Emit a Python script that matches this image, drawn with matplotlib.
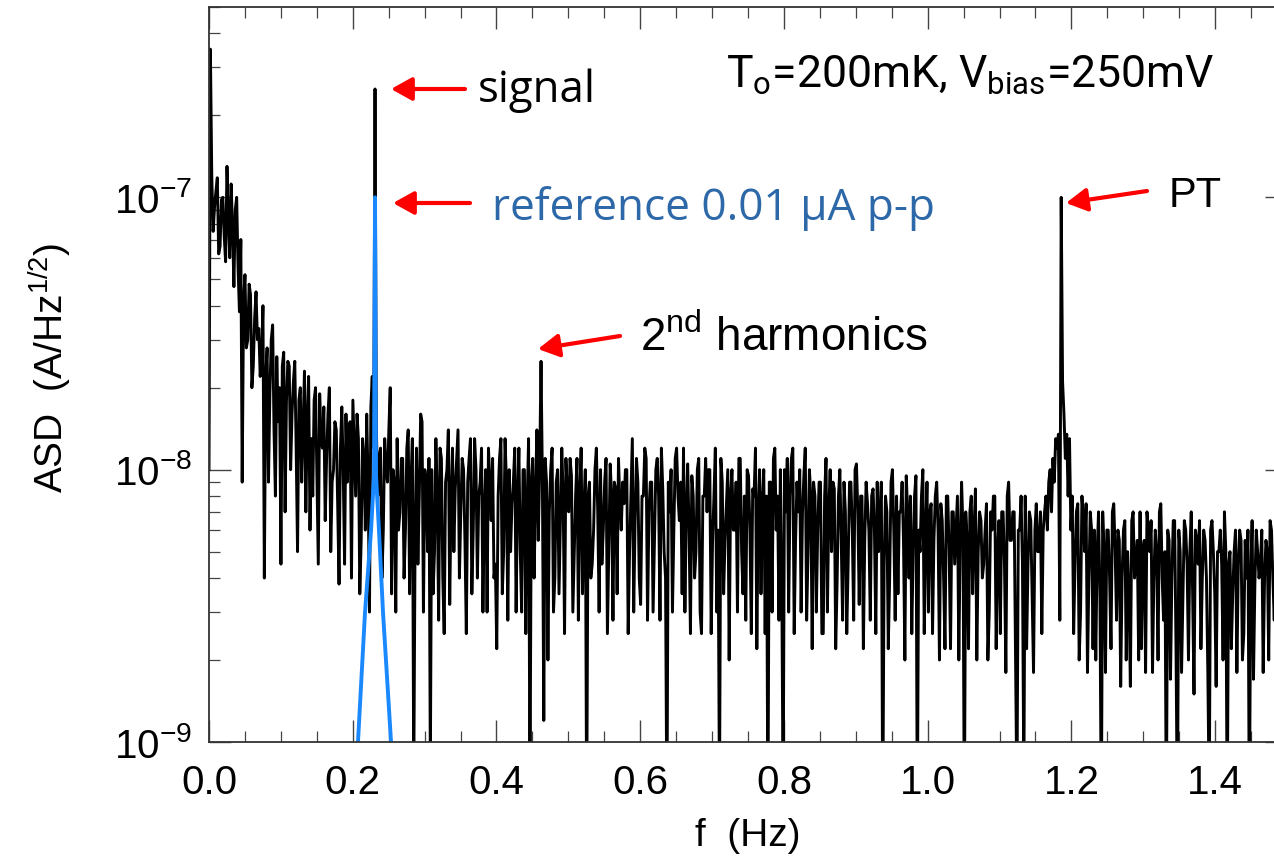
import numpy as np
import matplotlib
matplotlib.use("Agg")
import matplotlib.pyplot as plt
from matplotlib.ticker import MultipleLocator, LogLocator, NullFormatter

# current noise spectrum, FFT bins of width df, values in nA/Hz^1/2
df = 0.001925
asd_nA = [
    10, 350, 120, 75, 92, 105, 118, 62, 66, 98, 100, 72, 58, 130, 84, 60, 112, 78, 47, 90,
    100, 55, 38, 70, 9, 42, 52, 28, 30, 48, 44, 20, 24, 36, 45, 30, 33, 22, 26, 40,
    4, 22, 28, 9, 19, 30, 34, 14, 8, 26, 15, 20, 4.5, 24, 27, 7, 18, 25, 24, 10,
    16, 21, 25, 12, 5, 18, 20, 9, 14, 23, 7, 15, 22, 6, 13, 8, 18, 20, 9.5, 4.5,
    19, 13, 12, 17, 6.5, 11, 16, 20, 5, 9, 10, 15, 14, 7.5, 3.8, 12, 17, 10, 4.5, 16,
    9, 14, 15, 4, 18, 12, 8, 16, 13, 3.5, 5.5, 13, 11, 6, 16, 9, 3, 17, 22, 12,
    250, 14, 8, 11, 12, 4, 6, 13, 10, 9, 14, 20, 3.5, 10, 9, 3, 13, 6, 7, 11,
    11, 4, 6, 12, 14, 3.5, 9, 13, 0.7, 6, 12, 4.5, 8, 16, 15, 3, 10, 9, 5, 11,
    0.8, 10, 3.5, 5, 13, 8, 2.8, 12, 11, 4, 2.5, 9, 10, 14, 3.2, 8, 12, 5, 8.5, 11,
    14, 4, 7, 11, 10, 5.5, 2.5, 9, 11, 13, 3.5, 6, 13, 10, 4, 8, 9, 12, 3, 7,
    10, 3, 12, 9, 6.5, 11, 4, 4.5, 2.2, 8, 11, 13, 3.5, 5, 13, 9, 2.8, 10, 5, 7.5,
    9, 12, 3, 8, 12, 5, 3, 10, 10, 2.5, 7.5, 13, 0.6, 9, 11, 4, 8, 14, 5.5, 10,
    25, 9, 1.2, 11, 9, 2, 7, 10, 12, 3, 4, 9, 10, 3.5, 6.5, 12, 8, 2.5, 11, 8,
    7, 11, 9.5, 3, 5, 8, 11, 2.8, 8, 12, 3.5, 7, 10, 0.5, 8, 9, 4, 4.5, 6, 10,
    12, 7, 3, 10, 4.5, 6, 9, 11, 2.5, 5, 10.5, 8, 2.8, 9, 8.5, 3.5, 11, 7.5, 6, 9,
    7.5, 10, 10, 2.5, 5, 8, 13, 3, 6.5, 11, 9, 4, 3.2, 8, 8, 12, 11, 2.8, 7, 9,
    9, 3, 5.5, 10, 11, 8, 2.8, 12, 8.5, 5, 4, 0.5, 9, 7, 10, 3, 6, 11, 12, 8,
    6.5, 9, 3.5, 12, 3, 7, 10.5, 6, 2.5, 9.5, 8, 4, 5, 10, 11, 3, 2.5, 8, 8, 11,
    7, 10, 10, 2.5, 5.5, 8, 12, 3, 6, 0.6, 11, 9, 3.5, 5.5, 7.5, 10, 2, 8, 10, 6,
    6, 9, 3, 11, 11, 5, 3.5, 8, 2.8, 10, 9.5, 6, 2.5, 8.5, 8, 12, 2.2, 7, 10, 3.5,
    7.5, 10, 2.5, 8, 0.5, 9, 9, 3, 11, 12, 6, 8, 2.8, 10, 4, 0.6, 10, 7, 11, 3,
    8, 11, 12, 2.5, 5.5, 9, 7, 10, 3, 7, 9.5, 12, 2.8, 5, 10, 8, 2.2, 9, 8, 3,
    6, 9, 9, 2.5, 2.5, 8, 11, 3, 7, 10, 5, 9, 8.5, 2.2, 3.8, 8, 10, 5.5, 2.8, 9,
    7, 2.5, 4.5, 9, 9, 6, 2.8, 10, 10.5, 7, 3.2, 8, 8, 2.2, 5.5, 9, 7.5, 6, 2.8, 8,
    8.5, 6, 2.5, 9, 5, 7, 9, 0.5, 4.5, 8, 7, 2.2, 4, 9, 10, 6, 2.8, 8, 3.5, 7,
    7, 9, 5.5, 2, 9.5, 7, 4, 8, 2.5, 5, 8, 9.5, 0.5, 6, 5, 8, 10, 2.5, 6, 9,
    3, 7, 7.5, 2.5, 5.5, 8, 9, 6, 2, 7.5, 6.5, 4, 2.2, 8, 8, 5, 2.2, 7, 7, 4.5,
    6, 8, 2, 5.5, 9, 6, 0.5, 7, 5.5, 2.2, 7, 8, 3.5, 6, 8.5, 2, 5, 7, 6.5, 4,
    4.5, 6, 7.5, 2, 3, 7, 6, 8, 8, 2.2, 5, 6.5, 2.5, 7, 7, 4.5, 1.8, 8, 9, 5.5,
    5.5, 7, 7, 2, 0.6, 6, 6, 8, 4.5, 0.7, 8, 2.2, 4.5, 7, 6.5, 3.5, 1.8, 6, 7.5, 5,
    5, 7, 2.5, 6, 7, 8, 6, 9, 10, 7, 11, 9, 13, 12, 13.5, 2.8, 100, 21, 16, 11,
    13.5, 8, 13, 6, 8, 2.5, 4.5, 7, 7.5, 2, 3, 8, 6.5, 5, 7.5, 1.8, 4, 7, 6, 2.2,
    6, 2, 5, 7, 3.5, 0.5, 7, 5, 1.8, 6, 6, 4, 2.2, 7, 7.5, 5, 2.8, 6, 5.5, 1.6,
    4, 6, 6.5, 2, 5, 3.5, 1.6, 6.5, 7, 4, 4.5, 5.5, 2, 7, 2.2, 5, 5.5, 1.8, 7, 6,
    5, 6.5, 1.8, 4, 6, 5, 2, 7, 7.5, 4, 2.8, 5, 0.5, 6, 5.5, 1.7, 4, 6.5, 6.5, 2.2,
    0.5, 6, 5, 1.8, 3.5, 6.5, 6, 4.5, 2, 5, 7, 3.5, 1.5, 6, 5.5, 4.5, 6.5, 2.2, 4, 6,
    5.5, 4, 1.8, 0.6, 6, 6.5, 5, 3.5, 1.6, 5, 5, 6, 4.5, 2, 7, 5, 0.5, 4.5, 5, 2.2,
    3.5, 5, 6, 1.8, 4.5, 6, 5.5, 2, 2.5, 5.5, 4, 6, 0.5, 4, 6.5, 1.7, 3.8, 6, 5, 4,
    4.5, 6, 1.8, 4, 5.5, 5, 2, 6.5, 6, 4, 2.8, 5, 1.6, 6, 5, 3.5, 3.5, 5.5, 2.2, 5,
]

# reference tone spectrum (0.01 uA p-p)
ref_f = [0.195, 0.2073, 0.2171, 0.2255, 0.2296, 0.2310, 0.2324, 0.2365, 0.2421, 0.2533, 0.265]
ref_asd = [0.5e-9, 1.0e-9, 3.0e-9, 6.0e-9, 9.5e-9, 1.0e-7, 9.5e-9, 6.0e-9, 3.0e-9, 1.0e-9, 0.5e-9]

xticks = [0.0, 0.2, 0.4, 0.6, 0.8, 1.0, 1.2, 1.4]
yticks = [1e-9, 1e-8, 1e-7]
ylabels = [r'$10^{-9}$', r'$10^{-8}$', r'$10^{-7}$']

freq = np.arange(len(asd_nA)) * df
asd = np.array(asd_nA) * 1e-9

plt.rcParams['font.family'] = 'Liberation Sans'
plt.rcParams['mathtext.fontset'] = 'custom'
plt.rcParams['mathtext.rm'] = 'Liberation Sans'
plt.rcParams['mathtext.default'] = 'regular'
W, H = 1274, 860
fx = lambda x: x / W
fy = lambda y: 1 - y / H

fig = plt.figure(figsize=(W / 100, H / 100), dpi=100)
ax = fig.add_axes([fx(209), fy(742), 1078 / W, 735 / H])
ax.plot(freq, asd, color='black', lw=2.1)
ax.plot(ref_f, ref_asd, color='#1a88ff', lw=2.8)

ax.set_yscale('log')
ax.set_xlim(0, 1.5)
ax.set_ylim(1e-9, 5e-7)
ax.set_xticks(xticks)
ax.set_xticklabels([f"{t:.1f}" for t in xticks])
ax.set_yticks(yticks)
ax.set_yticklabels(ylabels)
ax.xaxis.set_minor_locator(MultipleLocator(0.05))
ax.yaxis.set_minor_locator(LogLocator(base=10, subs=np.arange(2, 10), numticks=20))
ax.yaxis.set_minor_formatter(NullFormatter())
ax.tick_params(which='both', direction='in', top=True, right=True, color='#444444', labelsize=29)
ax.tick_params(which='major', length=16, width=1.0, pad=12)
ax.tick_params(which='minor', length=8, width=0.9)
ax.tick_params(axis='x', pad=16)
for s in ax.spines.values():
    s.set_linewidth(1.3)
    s.set_color('#333333')

fig.text(fx(748), fy(836), 'f  (Hz)', ha='center', va='center', fontsize=28)
fig.text(fx(50), fy(368), r'ASD  (A/Hz$^{1/2}$)', ha='center', va='center', rotation=90, fontsize=28)

# annotations
arrow = dict(arrowstyle='-|>,head_length=0.45,head_width=0.25', color='red', lw=3, mutation_scale=28,
             shrinkA=0, shrinkB=0)
for tail, head in [((465, 89), (391, 89)), ((470, 203), (393, 203)),
                   ((620, 336), (538, 349)), ((1147, 191), (1066, 203))]:
    ax.annotate('', xy=(fx(head[0]), fy(head[1])), xycoords='figure fraction',
                xytext=(fx(tail[0]), fy(tail[1])), textcoords='figure fraction', arrowprops=arrow)

fig.text(fx(478), fy(102), 'signal', fontsize=31.5, family='Open Sans', va='baseline')
fig.text(fx(492), fy(220), 'reference 0.01 \u03bcA p-p', fontsize=31.8, family='Open Sans',
         color='#2d68a8', va='baseline')
fig.text(fx(640), fy(351), r'2$^\mathregular{nd}$ harmonics', fontsize=33, family='Liberation Sans',
         va='baseline')
fig.text(fx(1169), fy(207), 'PT', fontsize=30, family='Liberation Sans', va='baseline')
fig.text(fx(726), fy(88), r'T$_\mathregular{o}$=200mK, V$_\mathregular{bias}$=250mV', fontsize=32,
         family='Roboto', va='baseline')

fig.savefig('out.png', dpi=100)
